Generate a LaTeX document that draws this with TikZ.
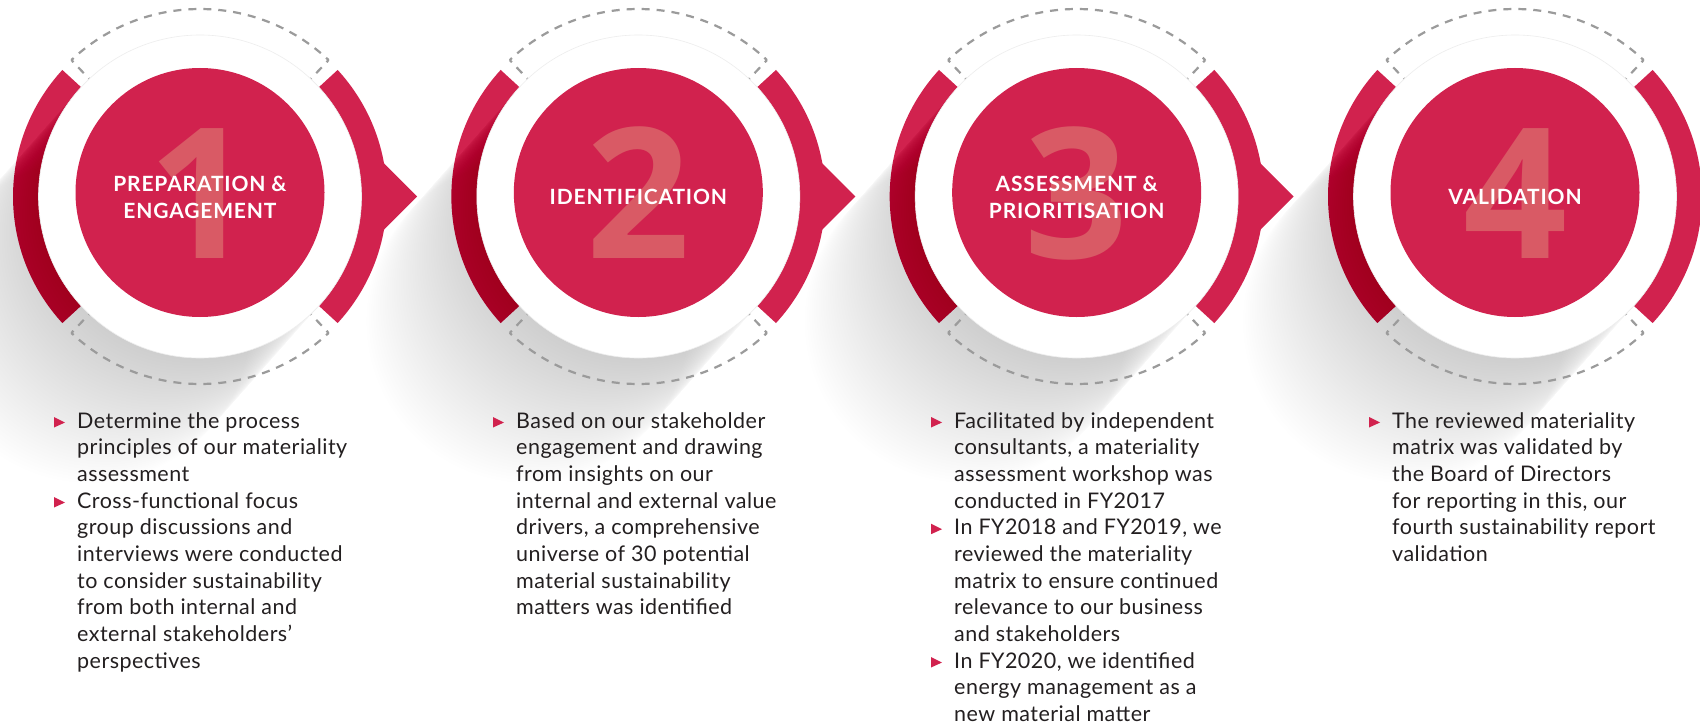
\documentclass[tikz,border=0pt]{standalone}
\usepackage{fontspec}
\setmainfont{Lato}
\newfontfamily\bodyfont{Lato}[LetterSpace=2.2]
\newfontfamily\headfont{Lato}[LetterSpace=4]
\newfontfamily\digitfont{Open Sans}
\usetikzlibrary{calc}
\definecolor{ringred}{RGB}{209,34,78}
\definecolor{digitred}{RGB}{217,90,101}
\definecolor{dashgray}{RGB}{155,155,155}
\definecolor{bodytext}{RGB}{35,31,32}
\tikzset{
  dashline/.style={draw=dashgray, line width=2.2pt, dash pattern=on 8pt off 7pt, dash phase=5pt},
  heading/.style={anchor=base, align=center, inner sep=0pt, text=white,
     font=\headfont\bfseries\fontsize{21}{27}\selectfont},
  digit/.style={anchor=base, inner sep=0pt, text=digitred,
     font=\digitfont\bfseries\fontsize{182}{182}\selectfont},
  bodytxt/.style={anchor=base west, align=left, inner sep=0pt, text=bodytext,
     font=\bodyfont\fontsize{21.5}{26.67}\selectfont},
  bulletmark/.style={fill=ringred}
}
% #1 name, #2 x, #3 first baseline, #4 number of lines, #5 text
\newcommand\bodyitem[5]{%
  \node[bodytxt] (#1) at (#2,{#3+(#4-1)*26.67}) {#5};
  \fill[bulletmark] ($(#1.base west)+(-23,{-11-(#4-1)*26.67})$)
     -- ($(#1.base west)+(-12,{-5.5-(#4-1)*26.67})$)
     -- ($(#1.base west)+(-23,{-0.5-(#4-1)*26.67})$) -- cycle;
}
\begin{document}
\begin{tikzpicture}[x=1pt,y=-1pt]
\useasboundingbox (0,0) rectangle (1700,725);
\fill[white] (0,0) rectangle (1700,725);
% centres
\foreach \i in {1,...,4}{
  \pgfmathsetmacro\cx{200+438.33*(\i-1)}
  \coordinate (c\i) at (\cx,196.5);
  \coordinate (r\i) at (\cx,192.5);
}
% red ring arcs and arrows
\foreach \i in {1,...,4}{
  \fill[ringred] ($(c\i)+(-42.6:187)$) arc[start angle=-42.6,end angle=42.6,radius=187]
      -- ($(c\i)+(42.6:150)$) arc[start angle=42.6,end angle=-42.6,radius=150] -- cycle;
  \fill[ringred] ($(c\i)+(137.4:187)$) arc[start angle=137.4,end angle=222.6,radius=187]
      -- ($(c\i)+(222.6:150)$) arc[start angle=222.6,end angle=137.4,radius=150] -- cycle;
}
\foreach \i in {1,2,3}{
  \fill[ringred] ($(c\i)+(180,-37)$) -- ($(c\i)+(217,0)$) -- ($(c\i)+(180,37)$) -- cycle;
}
% long soft shadows
\foreach \i in {1,...,4}{
  \foreach \k in {1,...,48}{
    \fill[black, opacity=0.0045] ($(c\i)+(-2.3*\k,2.6*\k)$) circle[radius=161.5];
  }
}
% dashed outlines of the missing ring parts
\foreach \i in {1,...,4}{
  \draw[dashline] ($(c\i)+(-133.3:187.5)$) arc[start angle=-133.3,end angle=-46.7,radius=187.5];
  \draw[dashline] ($(c\i)+(-133.3:187.5)$) -- ($(c\i)+(-133.3:150)$);
  \draw[dashline] ($(c\i)+(-46.7:187.5)$) -- ($(c\i)+(-46.7:150)$);
  \draw[dashline] ($(c\i)+(133.3:187.5)$) arc[start angle=133.3,end angle=46.7,radius=187.5];
  \draw[dashline] ($(c\i)+(133.3:187.5)$) -- ($(c\i)+(133.3:150)$);
  \draw[dashline] ($(c\i)+(46.7:187.5)$) -- ($(c\i)+(46.7:150)$);
}
% white and inner red discs
\foreach \i in {1,...,4}{
  \fill[white, draw=black!7, line width=0.6pt] (c\i) circle[radius=161.5];
  \fill[ringred] (r\i) circle[radius=124.5];
}
% digits
\node[digit] (d1) at ($(r1)+(0,65.5)$) {1};
\node[digit] (d2) at ($(r2)+(0,65.5)$) {2};
\node[digit] (d3) at ($(r3)+(0,65.5)$) {3};
\node[digit] (d4) at ($(r4)+(0,65.5)$) {4};
% headings (base = last line)
\node[heading] (h1) at ($(r1)+(0,25.5)$) {PREPARATION \&\\ENGAGEMENT};
\node[heading] (h2) at ($(r2)+(0,11.5)$) {IDENTIFICATION};
\node[heading] (h3) at ($(r3)+(0,25.5)$) {ASSESSMENT \&\\PRIORITISATION};
\node[heading] (h4) at ($(r4)+(0,11.5)$) {VALIDATION};
% texts
\bodyitem{t1a}{77}{428}{3}{Determine the process\\principles of our materiality\\assessment}
\bodyitem{t1b}{77}{508}{7}{Cross-functional focus\\group discussions and\\interviews were conducted\\to consider sustainability\\from both internal and\\external stakeholders’\\perspectives}
\bodyitem{t2a}{516}{428}{8}{Based on our stakeholder\\engagement and drawing\\from insights on our\\internal and external value\\drivers, a comprehensive\\universe of 30 potential\\material sustainability\\matters was identified}
\bodyitem{t3a}{954}{428}{4}{Facilitated by independent\\consultants, a materiality\\assessment workshop was\\conducted in FY2017}
\bodyitem{t3b}{954}{534.7}{5}{In FY2018 and FY2019, we\\reviewed the materiality\\matrix to ensure continued\\relevance to our business\\and stakeholders}
\bodyitem{t3c}{954}{668}{3}{In FY2020, we identified\\energy management as a\\new material matter}
\bodyitem{t4a}{1392}{428}{6}{The reviewed materiality\\matrix was validated by\\the Board of Directors\\for reporting in this, our\\fourth sustainability report\\validation}
\end{tikzpicture}
\end{document}
